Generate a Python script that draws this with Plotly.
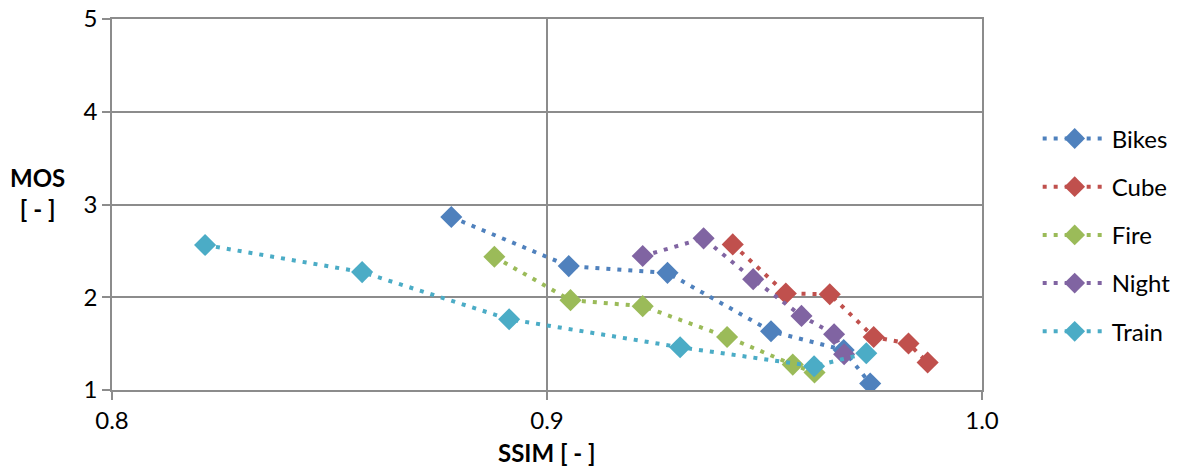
import plotly.graph_objects as go

# SSIM vs MOS per test sequence
bikes_ssim = [0.878, 0.905, 0.9277, 0.9515, 0.9682, 0.9743]
bikes_mos = [2.865, 2.336, 2.263, 1.634, 1.43, 1.069]

cube_ssim = [0.9427, 0.9549, 0.965, 0.9751, 0.9831, 0.9875]
cube_mos = [2.570, 2.041, 2.033, 1.572, 1.501, 1.296]

fire_ssim = [0.8879, 0.9054, 0.922, 0.9414, 0.9565, 0.9615]
fire_mos = [2.436, 1.969, 1.904, 1.572, 1.274, 1.188]

night_ssim = [0.922, 0.936, 0.9474, 0.9585, 0.966, 0.9683]
night_mos = [2.444, 2.635, 2.195, 1.799, 1.601, 1.386]

train_ssim = [0.8214, 0.8575, 0.8913, 0.9306, 0.9614, 0.9734]
train_mos = [2.563, 2.271, 1.763, 1.461, 1.256, 1.396]

series = [
    ("Bikes", bikes_ssim, bikes_mos, "#4F81BD"),
    ("Cube", cube_ssim, cube_mos, "#C0504D"),
    ("Fire", fire_ssim, fire_mos, "#9BBB59"),
    ("Night", night_ssim, night_mos, "#8064A2"),
    ("Train", train_ssim, train_mos, "#4BACC6"),
]

x_ticks = [0.8, 0.9, 1.0]
x_tick_labels = ["0.8", "0.9", "1.0"]
y_ticks = [1, 2, 3, 4, 5]

FONT = "Lato"
GRID = "#8C8C8C"
FS = 24

fig = go.Figure()
for name, xs, ys, color in series:
    fig.add_trace(go.Scatter(
        x=xs, y=ys, name=name, mode="lines+markers",
        legendgroup=name,
        line=dict(color=color, width=4, dash="4px,7px"),
        marker=dict(symbol="diamond", size=17, color=color),
    ))

fig.update_layout(
    width=1181, height=469,
    margin=dict(l=112, r=199, t=19, b=79, autoexpand=False),
    paper_bgcolor="white", plot_bgcolor="white",
    font=dict(family=FONT, size=FS, color="#000000"),
    showlegend=True,
    legend=dict(
        x=1.064, xanchor="left", y=0.418, yanchor="middle",
        xref="paper", yref="paper",
        font=dict(size=FS), itemwidth=64,
        tracegroupgap=14, bgcolor="rgba(0,0,0,0)",
    ),
    xaxis=dict(
        range=[0.8, 1.0], tickvals=x_ticks, ticktext=x_tick_labels,
        showgrid=True, gridcolor=GRID, gridwidth=1.5,
        showline=True, linecolor=GRID, linewidth=1.5, mirror=True,
        ticks="outside", ticklen=8, tickcolor=GRID, tickwidth=1.5,
        zeroline=False, tickfont=dict(size=FS), automargin=False,
    ),
    yaxis=dict(
        range=[1, 5], tickvals=y_ticks,
        showgrid=True, gridcolor=GRID, gridwidth=1.5,
        showline=True, linecolor=GRID, linewidth=1.5, mirror=True,
        ticks="outside", ticklen=8, tickcolor=GRID, tickwidth=1.5,
        zeroline=False, tickfont=dict(size=FS), automargin=False,
    ),
    annotations=[
        dict(text="<b>MOS</b><br><b>[ - ]</b>", xref="paper", yref="paper",
             x=-0.086, y=0.53, xanchor="center", yanchor="middle",
             showarrow=False, font=dict(size=FS, family=FONT)),
        dict(text="<b>SSIM [ - ]</b>", xref="paper", yref="paper",
             x=0.5, y=-0.125, xanchor="center", yanchor="top",
             showarrow=False, font=dict(size=FS, family=FONT)),
    ],
)

fig.write_html("out.html")
